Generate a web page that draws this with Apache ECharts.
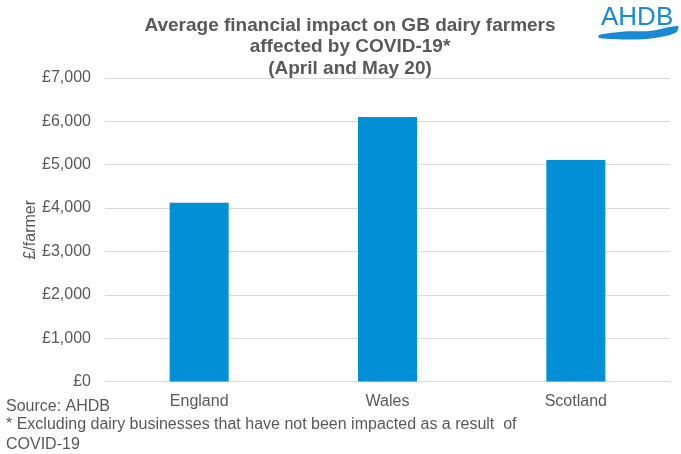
<!DOCTYPE html>
<html>
<head>
<meta charset="utf-8">
<script src="https://cdn.jsdelivr.net/npm/echarts@6/dist/echarts.min.js"></script>
<style>
html,body{margin:0;padding:0;background:#fff;}
#c{width:681px;height:454px;}
</style>
</head>
<body>
<div id="c"></div>
<script>
var categories = ['England', 'Wales', 'Scotland'];
var values = [4120, 6100, 5110];
var yTicks = [0, 1000, 2000, 3000, 4000, 5000, 6000, 7000];

var chart = echarts.init(document.getElementById('c'), null, {renderer: 'canvas'});
var font = 'Liberation Sans, Arial, sans-serif';
chart.setOption({
  animation: false,
  backgroundColor: '#fff',
  title: {
    text: 'Average financial impact on GB dairy farmers\naffected by COVID-19*\n(April and May 20)',
    left: 345, top: 10, textAlign: 'center',
    textStyle: {fontFamily: font, fontSize: 19, fontWeight: 'bold', color: '#595959', lineHeight: 21.5}
  },
  grid: {left: 105, right: 11, top: 78, bottom: 72.5},
  xAxis: {
    type: 'category', data: categories,
    axisLine: {lineStyle: {color: '#d9d9d9'}},
    axisTick: {show: false},
    axisLabel: {fontFamily: font, fontSize: 16, color: '#595959', margin: 12}
  },
  yAxis: {
    type: 'value', min: yTicks[0], max: yTicks[yTicks.length - 1], interval: 1000,
    name: '£/farmer', nameLocation: 'middle', nameGap: 66, nameRotate: 90,
    nameMoveOverlap: false,
    nameTextStyle: {fontFamily: font, fontSize: 16, color: '#595959'},
    axisLine: {show: false}, axisTick: {show: false},
    splitLine: {lineStyle: {color: '#d9d9d9'}},
    axisLabel: {fontFamily: font, fontSize: 16, color: '#595959', margin: 14,
      formatter: function (v) { return '£' + v.toLocaleString('en-GB'); }}
  },
  series: [{
    type: 'bar', data: values, barWidth: 59,
    itemStyle: {color: '#028fd5'}
  }],
  graphic: [
    {type: 'text', x: 6, y: 399, style: {text: 'Source: AHDB', font: '16px ' + font, fill: '#595959'}},
    {type: 'text', x: 6, y: 415, style: {text: '* Excluding dairy businesses that have not been impacted as a result  of\nCOVID-19', font: '16px ' + font, fill: '#595959', lineHeight: 20}},
    {type: 'text', x: 601, y: 5, style: {text: 'AHDB', font: '26px ' + font, fill: '#1a8ad4'}},
    {type: 'polygon', shape: {points: [[599, 35], [625, 31.5], [650, 31], [678, 26], [676, 32.5], [655, 38], [630, 39.5], [599, 38]], smooth: 0.3}, style: {fill: '#1a8ad4'}}
  ]
});
</script>
</body>
</html>
